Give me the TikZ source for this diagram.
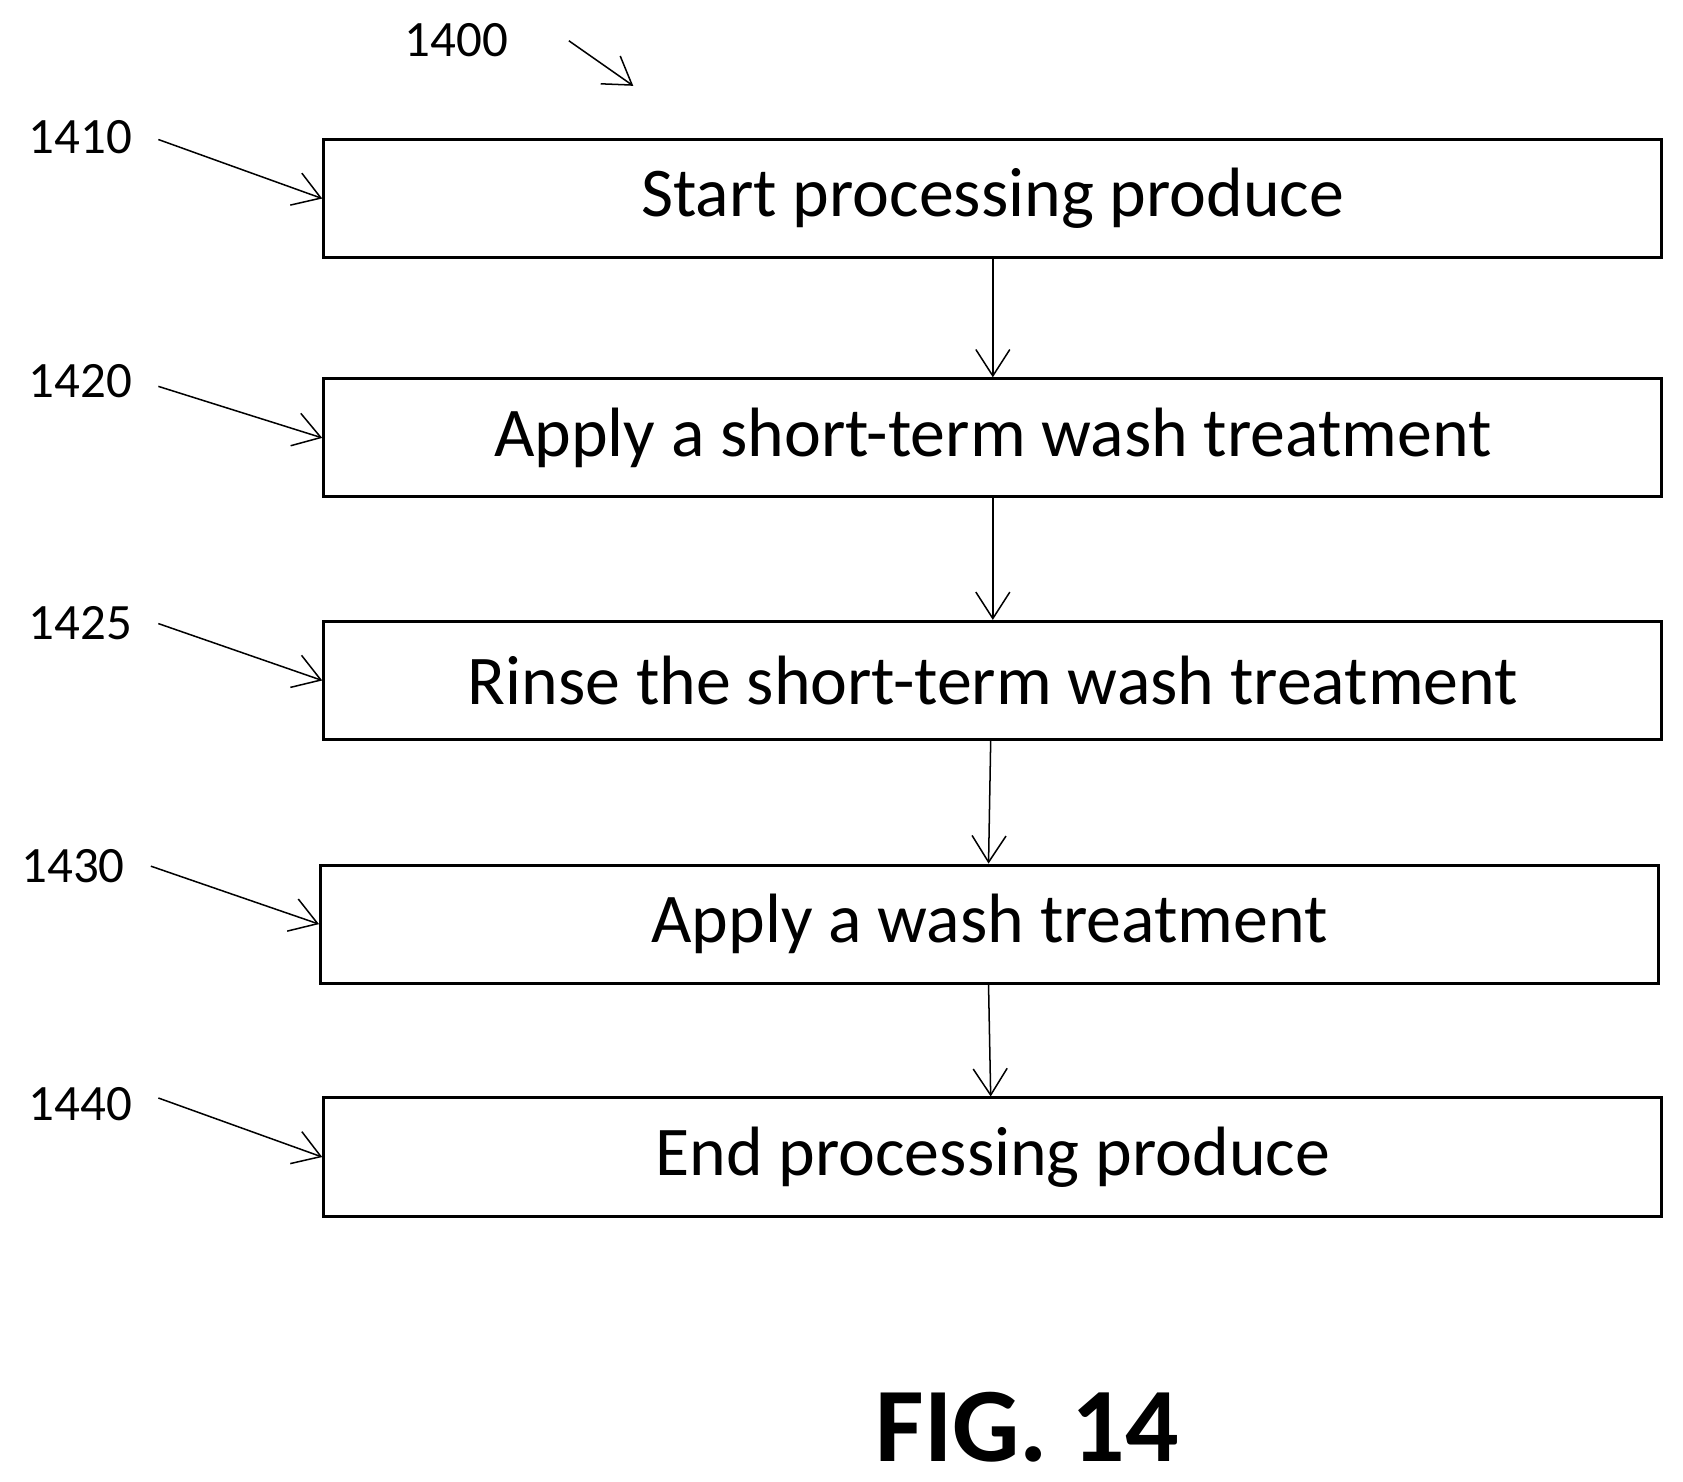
\documentclass[tikz,border=0pt]{standalone}
\usepackage{fontspec}
\setmainfont{Carlito}
\usetikzlibrary{arrows.meta}
\begin{document}
\begin{tikzpicture}[x=0.01cm,y=-0.01cm,
  stepbox/.style={draw, thick, minimum width=12.46cm, minimum height=1.1cm, font=\fontsize{18.5}{22}\selectfont},
  ref/.style={font=\fontsize{13.5}{16}\selectfont},
  flow/.style={draw, -{Straight Barb[length=7pt,width=9pt]}}]
    \useasboundingbox (0,0) rectangle (1568,1380);

    \node[stepbox] (s1) at (925,185) {Start processing produce};
    \node[stepbox] (s2) at (925,408) {Apply a short-term wash treatment};
    \node[stepbox] (s3) at (925,634) {Rinse the short-term wash treatment};
    \node[stepbox] (s4) at (922,861) {Apply a wash treatment};
    \node[stepbox] (s5) at (925,1078) {End processing produce};

    \draw[flow] (s1) -- (s2);
    \draw[flow] (s2) -- (s3);
    \draw[flow] (s3.south -| 923,0) -- (s4.north -| 921,0);
    \draw[flow] (s4.south -| 921,0) -- (s5.north -| 923,0);

    \node[ref] (l0) at (425,37) {1400};
    \coordinate (a0) at (530,38);
    \coordinate (b0) at (590,80);
    \draw[flow] (a0) -- (b0);

    \node[ref] (l1) at (75,128) {1410};
    \node[ref] (l2) at (75,355) {1420};
    \node[ref] (l3) at (75,581) {1425};
    \node[ref] (l4) at (68,807) {1430};
    \node[ref] (l5) at (75,1029) {1440};

    \draw[flow] (l1.east) ++(12,2) -- (s1.west);
    \draw[flow] (l2.east) ++(12,5) -- (s2.west);
    \draw[flow] (l3.east) ++(12,0) -- (s3.west);
    \draw[flow] (l4.east) ++(12,0) -- (s4.west);
    \draw[flow] (l5.east) ++(12,-6) -- (s5.west);

    \node[font=\bfseries\fontsize{28}{32}\selectfont] (fig) at (957,1330) {FIG. 14};
\end{tikzpicture}
\end{document}
